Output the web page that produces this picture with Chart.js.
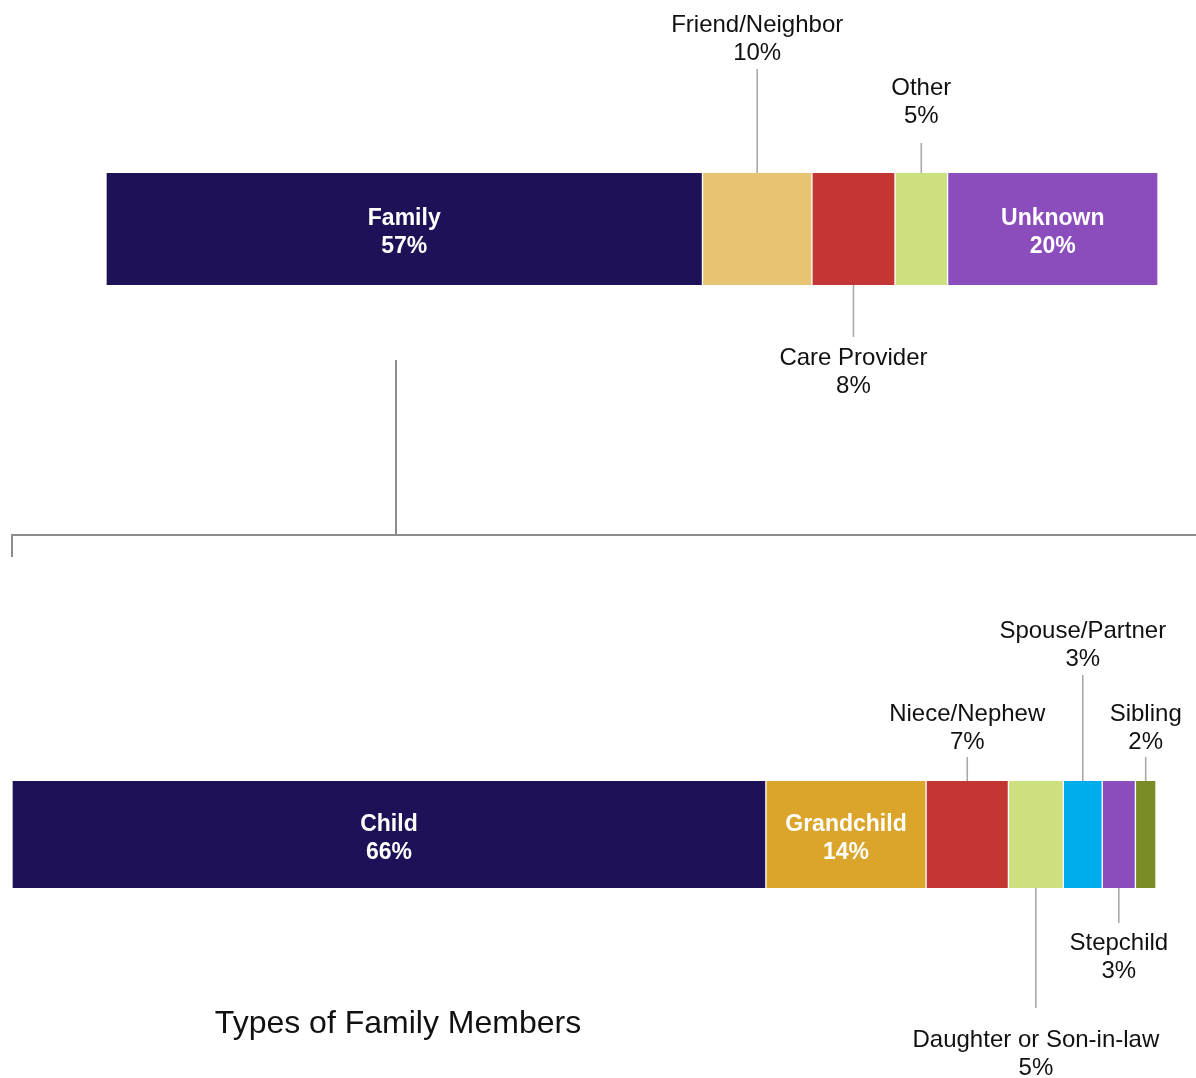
<!DOCTYPE html>
<html><head><meta charset="utf-8">
<script src="https://cdn.jsdelivr.net/npm/chart.js@4/dist/chart.umd.min.js"></script>
<style>
html,body{margin:0;padding:0;background:#fff;width:1196px;height:1078px;overflow:hidden}
canvas{position:absolute;left:0}
#c1{top:0}
#c2{top:580px}
</style></head><body>
<canvas id="c1" width="1196" height="600"></canvas>
<canvas id="c2" width="1196" height="498"></canvas>
<script>
// ---- data ----
const relationCategories = ['Family', 'Friend/Neighbor', 'Care Provider', 'Other', 'Unknown'];
const relationValues = [56.7, 10.4, 7.9, 5.0, 20.0];
const familyCategories = ['Child', 'Grandchild', 'Niece/Nephew', 'Daughter or Son-in-law', 'Spouse/Partner', 'Stepchild', 'Sibling'];
const familyValues = [65.9, 14.0, 7.2, 4.8, 3.4, 2.9, 1.8];
const chartTitle = 'Types of Family Members';
const bracketValue = 27.6; // point on the top bar the bracket descends from (axis units)

// ---- styles / layout ----
const relationColors = ['#1e1158', '#e8c472', '#c43633', '#cde07f', '#8b4dbc'];
const familyColors = ['#1e1158', '#dba42a', '#c43633', '#cde07f', '#00adeb', '#8b4dbc', '#7a8c26'];
const relationPlacement = [
  {pos: 'inside'},
  {pos: 'above', leader: 104, text: 113},
  {pos: 'below', leader: 52, text: 80},
  {pos: 'above', leader: 30, text: 50},
  {pos: 'inside'}
];
const familyPlacement = [
  {pos: 'inside'},
  {pos: 'inside'},
  {pos: 'above', leader: 24, text: 32},
  {pos: 'below', leader: 120, text: 159},
  {pos: 'above', leader: 106, text: 115},
  {pos: 'below', leader: 35, text: 62},
  {pos: 'above', leader: 24, text: 32}
];
const FONT = '"Liberation Sans", Arial, Helvetica, sans-serif';

function labelPlugin(placements, extra) {
  return {
    id: 'segLabels',
    afterDatasetsDraw(chart) {
      const ctx = chart.ctx;
      chart.data.datasets.forEach((ds, i) => {
        const el = chart.getDatasetMeta(i).data[0];
        const cx = (el.x + el.base) / 2;
        const top = el.y - el.height / 2;
        const bot = el.y + el.height / 2;
        const p = placements[i];
        const lines = [ds.label, Math.round(ds.data[0]) + '%'];
        ctx.save();
        ctx.textAlign = 'center';
        ctx.textBaseline = 'alphabetic';
        if (p.pos === 'inside') {
          ctx.fillStyle = '#ffffff';
          ctx.font = 'bold 23px ' + FONT;
          ctx.fillText(lines[0], cx, el.y - 4);
          ctx.fillText(lines[1], cx, el.y + 24);
        } else {
          ctx.strokeStyle = '#a9a9a9';
          ctx.lineWidth = 1.6;
          ctx.beginPath();
          if (p.pos === 'above') { ctx.moveTo(cx, top); ctx.lineTo(cx, top - p.leader); }
          else { ctx.moveTo(cx, bot); ctx.lineTo(cx, bot + p.leader); }
          ctx.stroke();
          ctx.fillStyle = '#111111';
          ctx.font = '24px ' + FONT;
          if (p.pos === 'above') {
            ctx.fillText(lines[1], cx, top - p.text);
            ctx.fillText(lines[0], cx, top - p.text - 28);
          } else {
            ctx.fillText(lines[0], cx, bot + p.text);
            ctx.fillText(lines[1], cx, bot + p.text + 28);
          }
        }
        ctx.restore();
      });
      if (extra) extra(chart);
    }
  };
}

function makeDatasets(cats, vals, colors) {
  return cats.map((c, i) => ({
    label: c,
    data: [vals[i]],
    backgroundColor: colors[i],
    borderColor: '#ffffff',
    borderWidth: {left: 1, right: 1, top: 0, bottom: 0},
    borderSkipped: false,
    barPercentage: 1,
    categoryPercentage: 1
  }));
}

function baseOptions(padding) {
  return {
    indexAxis: 'y',
    responsive: false,
    animation: false,
    devicePixelRatio: 1,
    layout: {padding},
    plugins: {legend: {display: false}, tooltip: {enabled: false}, title: {display: false}},
    scales: {
      x: {stacked: true, min: 0, max: 100, display: false},
      y: {stacked: true, display: false}
    }
  };
}

// top bar + bracket
new Chart(document.getElementById('c1'), {
  type: 'bar',
  data: {labels: ['All'], datasets: makeDatasets(relationCategories, relationValues, relationColors)},
  options: baseOptions({left: 106, right: 38, top: 173, bottom: 315}),
  plugins: [labelPlugin(relationPlacement, (chart) => {
    const ctx = chart.ctx;
    const bx = Math.round(chart.scales.x.getPixelForValue(bracketValue));
    const barBottom = chart.chartArea.bottom;
    const yTop = barBottom + 75, yH = barBottom + 250;
    ctx.save();
    ctx.strokeStyle = '#8c8c8c';
    ctx.lineWidth = 2;
    ctx.beginPath();
    ctx.moveTo(bx, yTop); ctx.lineTo(bx, yH);
    ctx.moveTo(11, yH); ctx.lineTo(1196, yH);
    ctx.moveTo(12, yH); ctx.lineTo(12, yH + 22);
    ctx.stroke();
    ctx.restore();
  })]
});

// bottom bar + title
new Chart(document.getElementById('c2'), {
  type: 'bar',
  data: {labels: ['Family'], datasets: makeDatasets(familyCategories, familyValues, familyColors)},
  options: baseOptions({left: 12, right: 40, top: 201, bottom: 190}),
  plugins: [labelPlugin(familyPlacement, (chart) => {
    const ctx = chart.ctx;
    ctx.save();
    ctx.fillStyle = '#111111';
    ctx.font = '32px ' + FONT;
    ctx.textAlign = 'center';
    ctx.textBaseline = 'alphabetic';
    ctx.fillText(chartTitle, 398, 453);
    ctx.restore();
  })]
});
</script>
</body></html>
